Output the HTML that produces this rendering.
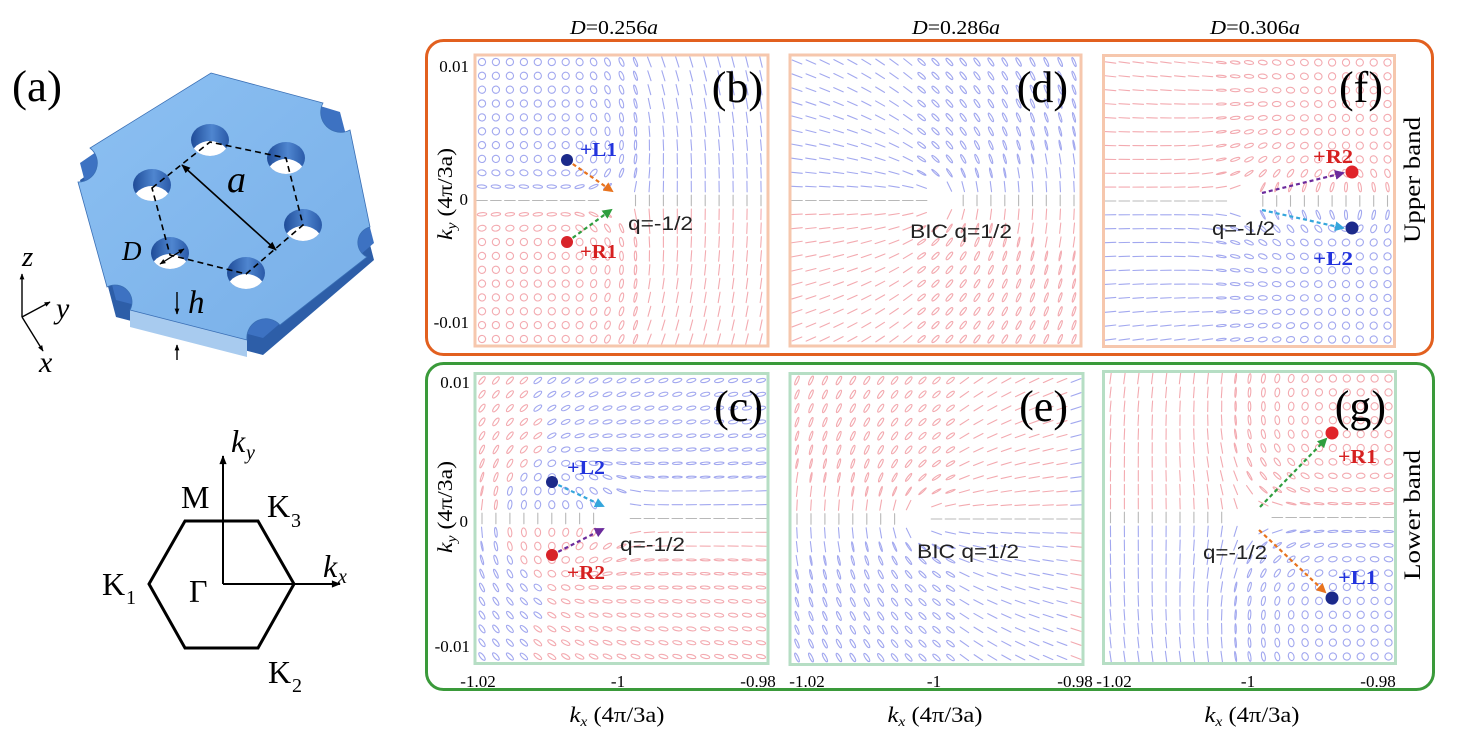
<!DOCTYPE html>
<html><head><meta charset="utf-8"><style>
html,body{margin:0;padding:0;background:#fff;}
svg{display:block;}
text{font-family:"Liberation Serif",serif;}
.s{font-family:"Liberation Sans",sans-serif;}
</style></head><body>
<svg id="svg" width="1470" height="748" viewBox="0 0 1470 748" xmlns="http://www.w3.org/2000/svg">
<defs>
 <marker id="mk" viewBox="0 0 10 10" refX="9" refY="5" markerWidth="10" markerHeight="9" markerUnits="userSpaceOnUse" orient="auto-start-reverse"><path d="M0,1 L10,5 L0,9 z" fill="#000"/></marker>
 <marker id="mks" viewBox="0 0 10 10" refX="9" refY="5" markerWidth="7" markerHeight="6" markerUnits="userSpaceOnUse" orient="auto-start-reverse"><path d="M0,1 L10,5 L0,9 z" fill="#000"/></marker>
 <marker id="mo" viewBox="0 0 10 10" refX="8" refY="5" markerWidth="10" markerHeight="10" markerUnits="userSpaceOnUse" orient="auto"><path d="M0,0 L10,5 L0,10 z" fill="#e8731e"/></marker>
 <marker id="mg" viewBox="0 0 10 10" refX="8" refY="5" markerWidth="10" markerHeight="10" markerUnits="userSpaceOnUse" orient="auto"><path d="M0,0 L10,5 L0,10 z" fill="#2e9e3e"/></marker>
 <marker id="mp" viewBox="0 0 10 10" refX="8" refY="5" markerWidth="10" markerHeight="10" markerUnits="userSpaceOnUse" orient="auto"><path d="M0,0 L10,5 L0,10 z" fill="#6b2a9c"/></marker>
 <marker id="mc" viewBox="0 0 10 10" refX="8" refY="5" markerWidth="10" markerHeight="10" markerUnits="userSpaceOnUse" orient="auto"><path d="M0,0 L10,5 L0,10 z" fill="#35a6dc"/></marker>
 <clipPath id="h1"><ellipse cx="210" cy="140" rx="19" ry="16"/></clipPath>
 <clipPath id="h2"><ellipse cx="286" cy="158" rx="19" ry="16"/></clipPath>
 <clipPath id="h3"><ellipse cx="303" cy="225" rx="19" ry="16"/></clipPath>
 <clipPath id="h4"><ellipse cx="246" cy="273" rx="19" ry="16"/></clipPath>
 <clipPath id="h5"><ellipse cx="170" cy="253" rx="19" ry="16"/></clipPath>
 <clipPath id="h6"><ellipse cx="152" cy="185" rx="19" ry="16"/></clipPath>
 <linearGradient id="wall" x1="0" y1="0" x2="1" y2="0">
  <stop offset="0" stop-color="#1f4c98"/><stop offset="0.55" stop-color="#4f86d0"/><stop offset="1" stop-color="#2a5aa8"/>
 </linearGradient>
 <linearGradient id="topf" x1="0" y1="0" x2="1" y2="1">
  <stop offset="0" stop-color="#8cc0f2"/><stop offset="1" stop-color="#78afe8"/>
 </linearGradient>
</defs>
<rect width="1470" height="748" fill="#fff"/>

<!-- ===== (a) plate ===== -->
<text x="12" y="101" font-size="44" textLength="50" lengthAdjust="spacingAndGlyphs">(a)</text>
<path d="M211,90 L340,129 L374,260 L263,355 L116,317 L80,180 Z" fill="#2d5ea8"/>
<polygon points="130,310 247,340 247,357 130,327" fill="#a8cbef"/>
<path d="M211,73 L340,112 L374,243 L263,338 L116,300 L80,163 Z" fill="#3d72c2"/>
<path d="M211,73 L323,103 A20 20 0 0 0 350,130 L370,227 A16 16 0 0 0 367,257 L280,325 A19 19 0 0 0 247,340 L130,310 A17 17 0 0 0 107,287 L78,182 A19 19 0 0 0 90,148 Z" fill="url(#topf)" stroke="#3a6fb5" stroke-width="0.8"/>
<g>
 <ellipse cx="210" cy="140" rx="19" ry="16" fill="url(#wall)"/>
 <ellipse cx="210" cy="157" rx="19" ry="16" fill="#fff" clip-path="url(#h1)"/>
 <ellipse cx="286" cy="158" rx="19" ry="16" fill="url(#wall)"/>
 <ellipse cx="286" cy="175" rx="19" ry="16" fill="#fff" clip-path="url(#h2)"/>
 <ellipse cx="303" cy="225" rx="19" ry="16" fill="url(#wall)"/>
 <ellipse cx="303" cy="242" rx="19" ry="16" fill="#fff" clip-path="url(#h3)"/>
 <ellipse cx="246" cy="273" rx="19" ry="16" fill="url(#wall)"/>
 <ellipse cx="246" cy="290" rx="19" ry="16" fill="#fff" clip-path="url(#h4)"/>
 <ellipse cx="170" cy="253" rx="19" ry="16" fill="url(#wall)"/>
 <ellipse cx="170" cy="270" rx="19" ry="16" fill="#fff" clip-path="url(#h5)"/>
 <ellipse cx="152" cy="185" rx="19" ry="16" fill="url(#wall)"/>
 <ellipse cx="152" cy="202" rx="19" ry="16" fill="#fff" clip-path="url(#h6)"/>
</g>
<polygon points="152,188 210,142 286,158 303,225 246,274 170,255" fill="none" stroke="#000" stroke-width="1.6" stroke-dasharray="6 4"/>
<line x1="182" y1="165" x2="276" y2="250" stroke="#000" stroke-width="1.6" marker-start="url(#mk)" marker-end="url(#mk)"/>
<line x1="160" y1="264" x2="184" y2="249" stroke="#000" stroke-width="1.3" marker-start="url(#mks)" marker-end="url(#mks)"/>
<text x="227" y="192" font-size="38" font-style="italic">a</text>
<text x="122" y="260" font-size="27" font-style="italic">D</text>
<line x1="177" y1="292" x2="177" y2="314" stroke="#000" stroke-width="1.4" marker-end="url(#mks)"/>
<line x1="177" y1="360" x2="177" y2="345" stroke="#000" stroke-width="1.4" marker-end="url(#mks)"/>
<text x="188" y="313" font-size="33" font-style="italic">h</text>
<line x1="22" y1="317" x2="22" y2="274" stroke="#000" stroke-width="1.4" marker-end="url(#mks)"/>
<line x1="22" y1="317" x2="50" y2="302" stroke="#000" stroke-width="1.4" marker-end="url(#mks)"/>
<line x1="22" y1="317" x2="43" y2="351" stroke="#000" stroke-width="1.4" marker-end="url(#mks)"/>
<text x="22" y="266" font-size="29" font-style="italic">z</text>
<text x="56" y="318" font-size="30" font-style="italic">y</text>
<text x="39" y="372" font-size="30" font-style="italic">x</text>

<!-- ===== Brillouin zone ===== -->
<polygon points="185,521 258,521 294,584 258,648 185,648 149,584" fill="none" stroke="#000" stroke-width="3"/>
<line x1="223" y1="584" x2="223" y2="456" stroke="#000" stroke-width="2" marker-end="url(#mk)"/>
<line x1="223" y1="584" x2="340" y2="584" stroke="#000" stroke-width="2" marker-end="url(#mk)"/>
<text x="231" y="452" font-size="32" font-style="italic">k</text><text x="246" y="459" font-size="20" font-style="italic">y</text>
<text x="323" y="577" font-size="32" font-style="italic">k</text><text x="338" y="583" font-size="20" font-style="italic">x</text>
<text x="181" y="508" font-size="32">M</text>
<text x="267" y="517" font-size="32">K</text><text x="291" y="527" font-size="20">3</text>
<text x="102" y="595" font-size="32">K</text><text x="126" y="604" font-size="20">1</text>
<text x="189" y="602" font-size="32">Γ</text>
<text x="268" y="683" font-size="32">K</text><text x="292" y="692" font-size="20">2</text>

<!-- ===== titles ===== -->
<text x="614" y="34" font-size="20" text-anchor="middle" textLength="88" lengthAdjust="spacingAndGlyphs"><tspan font-style="italic">D</tspan>=0.256<tspan font-style="italic">a</tspan></text>
<text x="956" y="34" font-size="20" text-anchor="middle" textLength="88" lengthAdjust="spacingAndGlyphs"><tspan font-style="italic">D</tspan>=0.286<tspan font-style="italic">a</tspan></text>
<text x="1255" y="34" font-size="20" text-anchor="middle" textLength="90" lengthAdjust="spacingAndGlyphs"><tspan font-style="italic">D</tspan>=0.306<tspan font-style="italic">a</tspan></text>

<rect x="426.5" y="40.5" width="1006" height="314" rx="17" fill="none" stroke="#e2601f" stroke-width="3"/>
<rect x="426.5" y="363.5" width="1007" height="326" rx="17" fill="none" stroke="#3a9a3a" stroke-width="3"/>

<g id="grid" stroke-width="1.1" stroke-linecap="round" fill="none"></g>

<g fill="none" stroke-width="3">
 <rect x="475" y="55" width="293" height="291" stroke="#f6c7ad"/>
 <rect x="790" y="55" width="291" height="291" stroke="#f6c7ad"/>
 <rect x="1103.5" y="55.5" width="291" height="291" stroke="#f6c7ad"/>
 <rect x="475" y="373.5" width="293" height="290" stroke="#b6dec4"/>
 <rect x="790" y="373.5" width="293" height="291" stroke="#b6dec4"/>
 <rect x="1103.5" y="371.5" width="292" height="292" stroke="#b6dec4"/>
</g>

<g font-size="44" text-anchor="end">
 <text x="763" y="102">(b)</text>
 <text x="1068" y="102">(d)</text>
 <text x="1383" y="102">(f)</text>
 <text x="763" y="421">(c)</text>
 <text x="1068" y="421">(e)</text>
 <text x="1386" y="421">(g)</text>
</g>

<g font-size="17" text-anchor="end">
 <text x="469" y="72">0.01</text>
 <text x="468" y="205">0</text>
 <text x="469" y="328">-0.01</text>
 <text x="470" y="388">0.01</text>
 <text x="468" y="527">0</text>
 <text x="470" y="652">-0.01</text>
</g>
<text transform="translate(452,194) rotate(-90)" font-size="21" text-anchor="middle" textLength="92" lengthAdjust="spacingAndGlyphs"><tspan font-style="italic">k</tspan><tspan font-style="italic" font-size="14" dy="4">y</tspan><tspan dy="-4"> (4π/3a)</tspan></text>
<text transform="translate(452,507) rotate(-90)" font-size="21" text-anchor="middle" textLength="92" lengthAdjust="spacingAndGlyphs"><tspan font-style="italic">k</tspan><tspan font-style="italic" font-size="14" dy="4">y</tspan><tspan dy="-4"> (4π/3a)</tspan></text>

<g font-size="17" text-anchor="middle">
 <text x="478" y="687">-1.02</text>
 <text x="618" y="687">-1</text>
 <text x="758" y="687">-0.98</text>
 <text x="807" y="687">-1.02</text>
 <text x="934" y="687">-1</text>
 <text x="1075" y="687">-0.98</text>
 <text x="1114" y="687">-1.02</text>
 <text x="1248" y="687">-1</text>
 <text x="1378" y="687">-0.98</text>
</g>
<g font-size="22" text-anchor="middle">
 <text x="617" y="722" textLength="95" lengthAdjust="spacingAndGlyphs"><tspan font-style="italic">k</tspan><tspan font-style="italic" font-size="14" dy="4">x</tspan><tspan dy="-4"> (4π/3a)</tspan></text>
 <text x="935" y="722" textLength="95" lengthAdjust="spacingAndGlyphs"><tspan font-style="italic">k</tspan><tspan font-style="italic" font-size="14" dy="4">x</tspan><tspan dy="-4"> (4π/3a)</tspan></text>
 <text x="1252" y="722" textLength="95" lengthAdjust="spacingAndGlyphs"><tspan font-style="italic">k</tspan><tspan font-style="italic" font-size="14" dy="4">x</tspan><tspan dy="-4"> (4π/3a)</tspan></text>
</g>

<text transform="translate(1420,180) rotate(-90)" font-size="23" text-anchor="middle" textLength="126" lengthAdjust="spacingAndGlyphs">Upper band</text>
<text transform="translate(1420,515) rotate(-90)" font-size="23" text-anchor="middle" textLength="130" lengthAdjust="spacingAndGlyphs">Lower band</text>

<g stroke-width="2.2" stroke-dasharray="4 3" fill="none">
 <line x1="567" y1="160" x2="612" y2="191" stroke="#e8731e" marker-end="url(#mo)"/>
 <line x1="567" y1="242" x2="611" y2="210" stroke="#2e9e3e" marker-end="url(#mg)"/>
 <line x1="1262" y1="193" x2="1343" y2="173" stroke="#6b2a9c" marker-end="url(#mp)"/>
 <line x1="1262" y1="210" x2="1343" y2="228" stroke="#35a6dc" marker-end="url(#mc)"/>
 <line x1="552" y1="482" x2="603" y2="506" stroke="#35a6dc" marker-end="url(#mc)"/>
 <line x1="552" y1="555" x2="603" y2="529" stroke="#6b2a9c" marker-end="url(#mp)"/>
 <line x1="1260" y1="507" x2="1326" y2="439" stroke="#2e9e3e" marker-end="url(#mg)"/>
 <line x1="1259" y1="530" x2="1325" y2="592" stroke="#e8731e" marker-end="url(#mo)"/>
</g>
<g>
 <circle cx="567" cy="160" r="6" fill="#1c2a8a"/>
 <circle cx="567" cy="242" r="6" fill="#d8242a"/>
 <circle cx="1352" cy="172" r="6.5" fill="#e0242a"/>
 <circle cx="1352" cy="228" r="6.5" fill="#1c2a8a"/>
 <circle cx="552" cy="482" r="6" fill="#1c2a8a"/>
 <circle cx="552" cy="555" r="6" fill="#d8242a"/>
 <circle cx="1332" cy="433" r="6.5" fill="#e0242a"/>
 <circle cx="1332" cy="598" r="6.5" fill="#1c2a8a"/>
</g>
<g font-size="20" font-weight="bold">
 <text x="580" y="156" fill="#2233dd" textLength="37" lengthAdjust="spacingAndGlyphs">+L1</text>
 <text x="580" y="258" fill="#d62020" textLength="37" lengthAdjust="spacingAndGlyphs">+R1</text>
 <text x="1313" y="163" fill="#d62020" textLength="40" lengthAdjust="spacingAndGlyphs">+R2</text>
 <text x="1313" y="265" fill="#2233dd" textLength="40" lengthAdjust="spacingAndGlyphs">+L2</text>
 <text x="567" y="474" fill="#2233dd" textLength="38" lengthAdjust="spacingAndGlyphs">+L2</text>
 <text x="567" y="579" fill="#d62020" textLength="38" lengthAdjust="spacingAndGlyphs">+R2</text>
 <text x="1338" y="463" fill="#d62020" textLength="39" lengthAdjust="spacingAndGlyphs">+R1</text>
 <text x="1338" y="584" fill="#2233dd" textLength="39" lengthAdjust="spacingAndGlyphs">+L1</text>
</g>
<g font-size="19" fill="#222">
 <text class="s" x="628" y="230" textLength="65" lengthAdjust="spacingAndGlyphs">q=-1/2</text>
 <text class="s" x="910" y="238" textLength="102" lengthAdjust="spacingAndGlyphs">BIC q=1/2</text>
 <text class="s" x="1212" y="235" textLength="63" lengthAdjust="spacingAndGlyphs">q=-1/2</text>
 <text class="s" x="620" y="551" textLength="65" lengthAdjust="spacingAndGlyphs">q=-1/2</text>
 <text class="s" x="917" y="558" textLength="102" lengthAdjust="spacingAndGlyphs">BIC q=1/2</text>
 <text class="s" x="1203" y="559" textLength="64" lengthAdjust="spacingAndGlyphs">q=-1/2</text>
</g>
</svg>
<script>
(function(){
const C={b:"#a2a8ef",r:"#f3aab0",g:"#b8b8b8"};
const D=180/Math.PI;
const cl=x=>Math.max(0,Math.min(1,x));
const ang=(u,v,a,b)=>Math.atan2(-(v-b),u-a)*D;
const panels=[
 {x:475,y:55,w:293,h:291,u0:0.49,q:-0.5,c0:90,cp:[[0.32,0.36],[0.32,0.64]],
  f:(u,v,dx,dy)=>({e:Math.min(1,7*Math.abs(dy))*cl((0.62-u)/0.3),c:dy<0?'b':'r'})},
 {x:790,y:55,w:291,h:291,u0:0.51,q:0.5,c0:90,cp:[],
  f:(u,v,dx,dy,ph,d)=>({e:0.32*Math.abs(Math.sin(ph/D))*cl(d/0.2)*(dx>-0.1?1:0.2),c:dy<0?'b':'r'})},
 {x:1103.5,y:55.5,w:291,h:291,u0:0.49,q:-0.5,c0:90,cp:[[0.85,0.40],[0.85,0.59]],
  f:(u,v,dx,dy)=>({e:Math.min(1,6*Math.abs(dy))*cl((u-0.3)/0.5),c:dy<0?'r':'b'})},
 {x:475,y:373.5,w:293,h:290,u0:0.48,q:-0.5,c0:0,cp:[[0.26,0.38],[0.26,0.63]],
  f:(u,v,dx,dy)=>{
    const pc=ang(u,v,0.27,0.5), dc=Math.hypot(u-0.27,v-0.5);
    const dC=Math.min(Math.hypot(u-0.26,v-0.38),Math.hypot(u-0.26,v-0.63));
    let e=Math.max(cl(1-dC/0.3),0.4*Math.min(1,3*Math.abs(dy)));
    let c;
    if(dy<0) c=(pc>100&&dc>0.22)?'r':'b';
    else c=(pc<-100&&dc>0.22)?'b':'r';
    return {e:e,c:c};}},
 {x:790,y:373.5,w:293,h:291,u0:0.44,q:0.5,c0:0,cp:[],
  f:(u,v,dx,dy,ph,d)=>({e:0.35*Math.abs(Math.sin(ph/D))*cl(d/0.25)*(dx<0.15?1:0.25),c:u>0.95?(dy<0?'b':'r'):(dy<0?'r':'b')})},
 {x:1103.5,y:371.5,w:292,h:292,u0:0.5,q:-0.5,c0:0,cp:[[0.78,0.21],[0.78,0.78]],
  f:(u,v,dx,dy)=>({e:Math.min(1,4*Math.abs(dy))*cl((u-0.4)/0.38),c:dy<0?'r':'b'})}
];
const n=21;let s='';
panels.forEach(P=>{
 const sx=(P.w-14)/(n-1),sy=(P.h-14)/(n-1);
 for(let i=0;i<n;i++)for(let j=0;j<n;j++){
  const u=j/(n-1),v=i/(n-1);
  const dx=u-P.u0,dy=v-0.5,d=Math.hypot(dx,dy);
  if(d<0.06)continue;
  const ph=Math.atan2(-dy,dx)*D;
  let psi=P.c0+P.q*ph;
  P.cp.forEach(p=>{psi+=0.5*ang(u,v,p[0],p[1]);});
  if(i===10) psi=P.c0+P.q*ph;
  const r=P.f(u,v,dx,dy,ph,d);
  const col=i===10?C.g:C[r.c];
  const e=i===10?0:cl(r.e);
  const cx=P.x+7+j*sx,cy=P.y+7+i*sy;
  const a=5.3-1.7*e;
  const tr='translate('+cx.toFixed(1)+','+cy.toFixed(1)+') rotate('+(-psi).toFixed(1)+')';
  if(e<0.12)s+='<line x1="'+(-a).toFixed(2)+'" y1="0" x2="'+a.toFixed(2)+'" y2="0" stroke="'+col+'" transform="'+tr+'"/>';
  else s+='<ellipse rx="'+a.toFixed(2)+'" ry="'+(a*e).toFixed(2)+'" stroke="'+col+'" transform="'+tr+'"/>';
 }
});
document.getElementById('grid').innerHTML=s;
})();
</script>
</body></html>
